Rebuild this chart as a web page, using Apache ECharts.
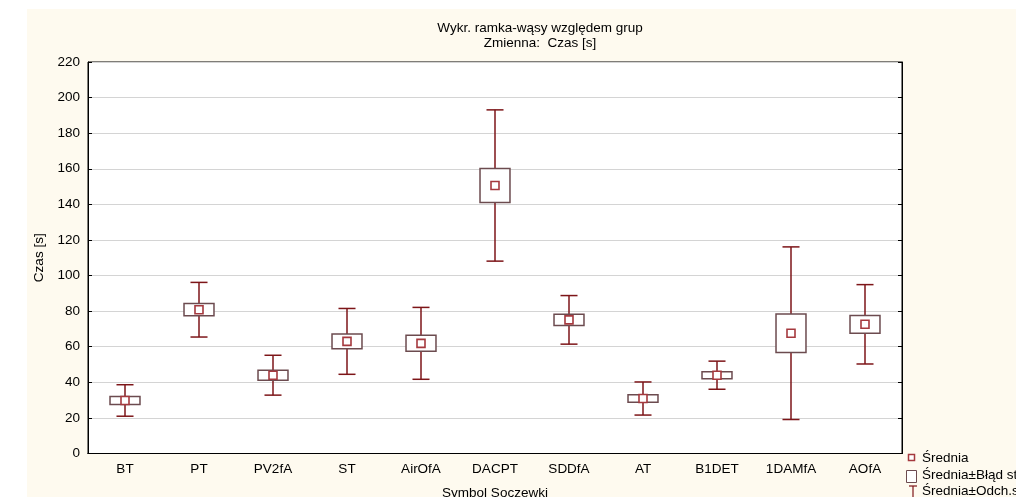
<!DOCTYPE html>
<html>
<head>
<meta charset="utf-8">
<script src="https://cdn.jsdelivr.net/npm/echarts@6/dist/echarts.min.js"></script>
<style>
  html, body { margin: 0; padding: 0; background: #ffffff; }
  #chart { width: 1016px; height: 497px; }
</style>
</head>
<body>
<div id="chart"></div>
<script>
// Lens groups and the measured time statistics per group
const categories = ['BT', 'PT', 'PV2fA', 'ST', 'AirOfA', 'DACPT', 'SDDfA', 'AT', 'B1DET', '1DAMfA', 'AOfA'];
const means      = [29.8, 80.8, 44.0, 63.0, 61.9, 150.6, 75.1, 30.9, 44.0, 67.6, 72.6];
const stdErrors  = [2.25, 3.45, 2.8, 4.15, 4.5, 9.55, 3.15, 2.15, 1.95, 10.85, 5.0];
const stdDevs    = [8.85, 15.35, 11.2, 18.5, 20.2, 42.5, 13.65, 9.3, 7.9, 48.5, 22.3];
const yTicks     = { min: 0, max: 220, interval: 20 };

const FONT = '"Liberation Sans", Arial, sans-serif';
const FS = 13.5;
const WHISKER = '#7d1518';
const BOX = '#6c4b4f';
const MEAN = '#a5393e';

const sdData = categories.map((c, i) => [i, means[i], stdDevs[i]]);
const seData = categories.map((c, i) => [i, means[i], stdErrors[i]]);
const meanData = categories.map((c, i) => [i, means[i]]);

// mean ± std. deviation: vertical line with caps
function renderWhisker(params, api) {
  const i = api.value(0), m = api.value(1), d = api.value(2);
  const top = api.coord([i, m + d]);
  const bot = api.coord([i, m - d]);
  const half = api.size([1, 0])[0] * 0.115;
  const style = { stroke: WHISKER, lineWidth: 1.5 };
  return {
    type: 'group',
    children: [
      { type: 'line', shape: { x1: top[0], y1: top[1], x2: bot[0], y2: bot[1] }, style },
      { type: 'line', shape: { x1: top[0] - half, y1: top[1], x2: top[0] + half, y2: top[1] }, style },
      { type: 'line', shape: { x1: bot[0] - half, y1: bot[1], x2: bot[0] + half, y2: bot[1] }, style }
    ]
  };
}

// mean ± std. error: white box
function renderBox(params, api) {
  const i = api.value(0), m = api.value(1), e = api.value(2);
  const top = api.coord([i, m + e]);
  const bot = api.coord([i, m - e]);
  const w = api.size([1, 0])[0] * 0.405;
  return {
    type: 'rect',
    shape: { x: top[0] - w / 2, y: top[1], width: w, height: bot[1] - top[1] },
    style: { fill: '#ffffff', stroke: BOX, lineWidth: 1.5 }
  };
}

const chart = echarts.init(document.getElementById('chart'), null, { renderer: 'canvas' });

const option = {
  backgroundColor: '#ffffff',
  animation: false,
  textStyle: { fontFamily: FONT },
  title: {
    text: 'Wykr. ramka-wąsy względem grup\nZmienna:  Czas [s]',
    left: 535, top: 16, textAlign: 'center',
    textStyle: { fontFamily: FONT, fontSize: FS, fontWeight: 'normal', color: '#000', lineHeight: 15 }
  },
  graphic: [
    { type: 'rect', z: -10, silent: true, shape: { x: 27, y: 9, width: 1000, height: 500 }, style: { fill: '#fefaef' } },
    // legend
    { type: 'rect', shape: { x: 908.5, y: 454.5, width: 6, height: 6 }, style: { fill: '#fff', stroke: MEAN, lineWidth: 1.5 } },
    { type: 'text', x: 922, y: 458, style: { text: 'Średnia', font: FS + 'px ' + FONT, fill: '#000', verticalAlign: 'middle' } },
    { type: 'rect', shape: { x: 906.5, y: 470.5, width: 10, height: 12 }, style: { fill: '#fff', stroke: BOX, lineWidth: 1 } },
    { type: 'text', x: 922, y: 475, style: { text: 'Średnia±Błąd st', font: FS + 'px ' + FONT, fill: '#000', verticalAlign: 'middle' } },
    { type: 'line', shape: { x1: 909, y1: 486, x2: 917, y2: 486 }, style: { stroke: WHISKER, lineWidth: 1.2 } },
    { type: 'line', shape: { x1: 913, y1: 486, x2: 913, y2: 500 }, style: { stroke: WHISKER, lineWidth: 1.2 } },
    { type: 'text', x: 922, y: 491, style: { text: 'Średnia±Odch.s', font: FS + 'px ' + FONT, fill: '#000', verticalAlign: 'middle' } }
  ],
  grid: {
    left: 88, top: 62, right: 114, bottom: 43.5,
    outerBoundsMode: 'none', containLabel: false,
    show: true, backgroundColor: '#ffffff', borderColor: '#000', borderWidth: 1
  },
  xAxis: [
    {
      type: 'category', data: categories, position: 'bottom',
      name: 'Symbol Soczewki', nameLocation: 'middle', nameGap: 33,
      nameTextStyle: { fontFamily: FONT, fontSize: FS, color: '#000' },
      axisLine: { lineStyle: { color: '#000', width: 1 } },
      axisTick: { inside: true, length: 4, alignWithLabel: true, lineStyle: { color: '#000' } },
      axisLabel: { color: '#000', fontSize: FS, fontFamily: FONT, margin: 9, interval: 0 },
      splitLine: { show: false }
    },
    {
      type: 'category', data: categories, position: 'top',
      axisLine: { lineStyle: { color: '#000', width: 1 } },
      axisTick: { inside: true, length: 4, alignWithLabel: true, lineStyle: { color: '#000' } },
      axisLabel: { show: false }, splitLine: { show: false }
    }
  ],
  yAxis: [
    {
      type: 'value', min: yTicks.min, max: yTicks.max, interval: yTicks.interval,
      name: 'Czas [s]', nameLocation: 'middle', nameGap: 41,
      nameTextStyle: { fontFamily: FONT, fontSize: FS, color: '#000' },
      axisLine: { show: true, lineStyle: { color: '#000', width: 1 } },
      axisTick: { show: true, inside: true, length: 4, lineStyle: { color: '#000' } },
      axisLabel: { color: '#000', fontSize: FS, fontFamily: FONT, margin: 8 },
      splitLine: { show: true, lineStyle: { color: '#d4d4d4', width: 1 } }
    },
    {
      type: 'value', min: yTicks.min, max: yTicks.max, interval: yTicks.interval, position: 'right',
      axisLine: { show: true, lineStyle: { color: '#000', width: 1 } },
      axisTick: { show: true, inside: true, length: 4, lineStyle: { color: '#000' } },
      axisLabel: { show: false }, splitLine: { show: false }
    }
  ],
  series: [
    { name: 'Średnia±Odch.std', type: 'custom', renderItem: renderWhisker, data: sdData, encode: { x: 0, y: 1 }, z: 2 },
    { name: 'Średnia±Błąd std', type: 'custom', renderItem: renderBox, data: seData, encode: { x: 0, y: 1 }, z: 3 },
    {
      name: 'Średnia', type: 'scatter', data: meanData, symbol: 'rect', symbolSize: 8, z: 4,
      itemStyle: { color: '#ffffff', borderColor: MEAN, borderWidth: 1.6, opacity: 1 }
    }
  ]
};

chart.setOption(option);
</script>
</body>
</html>
